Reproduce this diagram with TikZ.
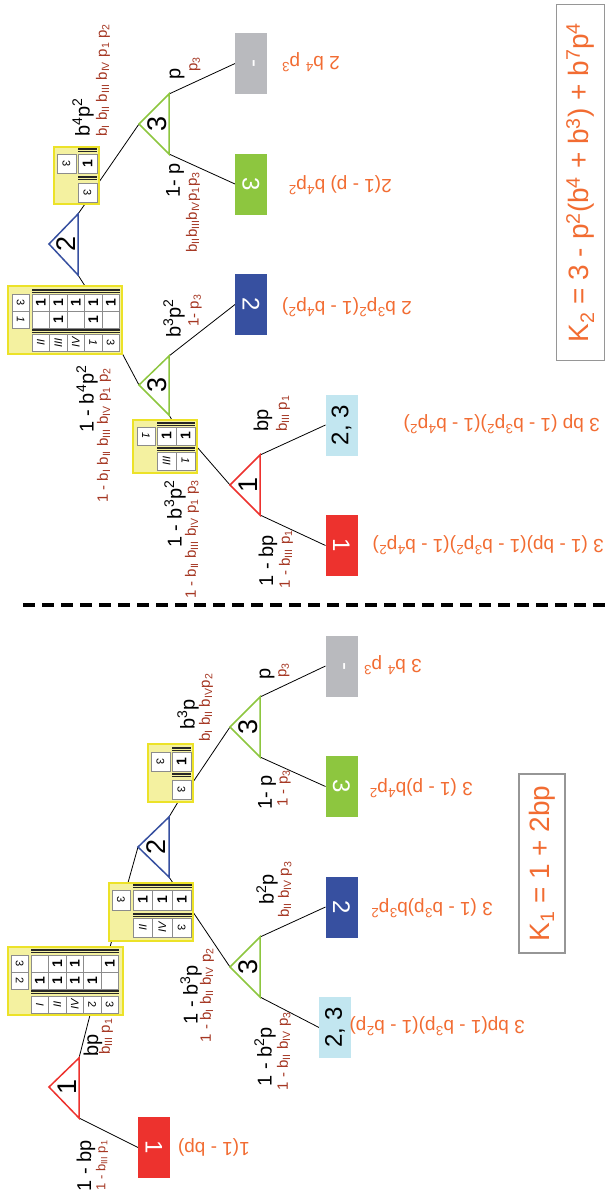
\documentclass[tikz,border=0pt]{standalone}
\usepackage{fontspec}
\setmainfont{Liberation Sans}
\usepackage{graphicx}
\definecolor{tred}{RGB}{237,50,46}
\definecolor{tblue}{RGB}{55,80,160}
\definecolor{tgreen}{RGB}{141,198,63}
\definecolor{tgrey}{RGB}{185,186,190}
\definecolor{tlblue}{RGB}{194,230,240}
\definecolor{orng}{RGB}{242,108,50}
\definecolor{lblred}{RGB}{165,55,35}
\definecolor{yfill}{RGB}{244,241,160}
\definecolor{yline}{RGB}{236,226,40}
\definecolor{kframe}{RGB}{150,150,150}
\definecolor{cellline}{RGB}{140,140,140}
\pgfdeclarelayer{edges}
\pgfsetlayers{edges,main}
\newcommand\fz[1]{\fontsize{#1}{#1}\selectfont}
\newcount\cno
% one table cell: x, y (top left), width, height, content
\newcommand\cell[5]{\global\advance\cno by 1
  \node[cellsty, minimum width=#3, minimum height=#4] (c\the\cno) at ({#1+#3/2},{#2+#4/2}) {#5};}
% triple rule over a row of cells: x1, x2, y
\newcommand\tlines[3]{\foreach \k in {0,1.5,3} {\draw[tl] (#1,{#3+\k}) -- (#2,{#3+\k});}}
\newcommand\one{\rotatebox{90}{\fz{14}\bfseries 1}}
\newcommand\hd[1]{\rotatebox{-90}{\fz{11}#1}}
\newcommand\hdi[1]{\rotatebox{-90}{\fz{11}\itshape #1}}
\newcommand\rn[1]{\rotatebox{90}{\fz{11}\itshape #1}}
\newcommand\up[1]{\textsuperscript{#1}}
\newcommand\dn[1]{\textsubscript{#1}}
\begin{document}
\begin{tikzpicture}[x=1pt,y=-1pt,
  edge/.style={line width=0.8pt,black},
  tri/.style={line width=1.5pt,line join=miter},
  tdig/.style={rotate=90,inner sep=0,font=\fz{27}},
  obox/.style={minimum width=32,minimum height=61,inner sep=0,outer sep=0,text=white,font=\fz{24}},
  ybox/.style={draw=yline,fill=yfill,line width=1.4pt,inner sep=0,outer sep=0},
  cellsty/.style={draw=cellline,fill=white,line width=0.6pt,inner sep=0,outer sep=0},
  tl/.style={line width=0.8pt,black!85},
  lb/.style={rotate=90,inner sep=0,font=\fz{20}},
  lr/.style={rotate=90,inner sep=0,text=lblred,font=\fz{15}},
  form/.style={rotate=180,inner sep=0,text=orng,font=\fz{19},anchor=west},
  kbox/.style={rotate=90,draw=kframe,line width=1.2pt,text=orng,font=\fz{28},inner sep=0},
  ]
\useasboundingbox (0,0) rectangle (607,1194);
\begin{pgfonlayer}{edges}
\fill[white] (0,0) rectangle (607,1194);
\end{pgfonlayer}

% ---------------- K2 tree ----------------
\coordinate (t2a) at (49,244); \coordinate (t2u) at (78,214); \coordinate (t2d) at (78,275);
\draw[tri,draw=tblue] (t2a) -- (t2u) -- (t2d) -- cycle;
\node[tdig] (t2n) at (66,244) {2};

\coordinate (g1a) at (139,124); \coordinate (g1u) at (169,94); \coordinate (g1d) at (169,154);
\draw[tri,draw=tgreen] (g1a) -- (g1u) -- (g1d) -- cycle;
\node[tdig] (g1n) at (157,124) {3};

\coordinate (g2a) at (139,385); \coordinate (g2u) at (169,356); \coordinate (g2d) at (169,415);
\draw[tri,draw=tgreen] (g2a) -- (g2u) -- (g2d) -- cycle;
\node[tdig] (g2n) at (157,385) {3};

\coordinate (r1a) at (230,485); \coordinate (r1u) at (260,455); \coordinate (r1d) at (260,515);
\draw[tri,draw=tred] (r1a) -- (r1u) -- (r1d) -- cycle;
\node[tdig] (r1n) at (248,485) {1};

% table A
\node[ybox,minimum width=114,minimum height=68] (tA) at (65,320) {};
\cell{12}{294}{17.5}{17}{\hd{3}}
\cell{12}{311}{17.5}{17}{\hdi{1}}
\tlines{32}{120}{289}
\tlines{32}{120}{329}
\cell{32}{294}{17.5}{17}{\one}\cell{49.5}{294}{17.5}{17}{\one}\cell{67}{294}{17.5}{17}{\one}\cell{84.5}{294}{17.5}{17}{\one}\cell{102}{294}{17.5}{17}{\one}
\cell{32}{311}{17.5}{17}{}\cell{49.5}{311}{17.5}{17}{\one}\cell{67}{311}{17.5}{17}{}\cell{84.5}{311}{17.5}{17}{\one}\cell{102}{311}{17.5}{17}{}
\cell{32}{334}{17.5}{17.5}{\rn{II}}\cell{49.5}{334}{17.5}{17.5}{\rn{III}}\cell{67}{334}{17.5}{17.5}{\rn{IV}}\cell{84.5}{334}{17.5}{17.5}{\hdi{1}}\cell{102}{334}{17.5}{17.5}{\hd{3}}
\coordinate (tAin) at (85,286); \coordinate (tAout) at (122,353);

% table B
\node[ybox,minimum width=45,minimum height=57] (tB) at (76.5,175.5) {};
\cell{57}{154}{19}{19}{\hd{3}}
\tlines{78}{97}{148}
\tlines{78}{97}{176}
\cell{78}{154}{19}{19}{\one}
\cell{78}{183}{19}{19}{\hd{3}}
\coordinate (tBin) at (85,204); \coordinate (tBout) at (99,182);

% table C
\node[ybox,minimum width=64,minimum height=53] (tC) at (165,446.5) {};
\cell{137}{427}{18}{18}{\hdi{1}}
\tlines{157}{195}{422}
\tlines{157}{195}{447}
\cell{157}{427}{19}{18}{\one}\cell{176}{427}{19}{18}{\one}
\cell{157}{452}{19}{18}{\rn{III}}\cell{176}{452}{19}{18}{\hdi{1}}
\coordinate (tCin) at (172,420); \coordinate (tCout) at (197,447);

% outcome boxes
\node[obox,fill=tgrey] (k2grey) at (251,63.5) {\rotatebox{-90}{-}};
\node[obox,fill=tgreen] (k2green) at (251,184) {\rotatebox{-90}{3}};
\node[obox,fill=tblue] (k2blue) at (251,304.5) {\rotatebox{-90}{2}};
\node[obox,fill=tlblue,text=black] (k2lblue) at (341.5,425) {\rotatebox{90}{2, 3}};
\node[obox,fill=tred] (k2red) at (341.5,545.5) {\rotatebox{-90}{1}};

% branch labels
\node[lb,anchor=west] (k2l1) at (83,137) {b\up{4}p\up{2}};
\node[lr,anchor=west] (k2l2) at (103,137) {b\dn{I} b\dn{II} b\dn{III} b\dn{IV} p\dn{1} p\dn{2}};
\node[lb,anchor=east] (k2l3) at (87,365) {1 - b\up{4}p\up{2}};
\node[lr,anchor=east] (k2l4) at (104,368) {1 - b\dn{I} b\dn{II} b\dn{III} b\dn{IV} p\dn{1} p\dn{2}};
\node[lb,anchor=west] (k2l5) at (177,80) {p};
\node[lr,anchor=west] (k2l6) at (195,72) {p\dn{3}};
\node[lb,anchor=east] (k2l7) at (175,163) {1- p};
\node[lr,anchor=east] (k2l8) at (193,172) {b\dn{II}b\dn{III}b\dn{IV}p\dn{1}p\dn{3}};
\node[lb,anchor=west] (k2l9) at (174,338) {b\up{3}p\up{2}};
\node[lr,anchor=west] (k2l10) at (195,327) {1- p\dn{3}};
\node[lb,anchor=east] (k2l11) at (175,480) {1 - b\up{3}p\up{2}};
\node[lr,anchor=east] (k2l12) at (192,480) {1 - b\dn{II} b\dn{III} b\dn{IV} p\dn{1} p\dn{3}};
\node[lb,anchor=west] (k2l13) at (263,432) {bp};
\node[lr,anchor=west] (k2l14) at (283,432) {b\dn{III} p\dn{1}};
\node[lb,anchor=east] (k2l15) at (268,535) {1 - bp};
\node[lr,anchor=east] (k2l16) at (286,530) {1 - b\dn{III} p\dn{1}};

% payoffs
\node[form] (k2f1) at (340,62) {2 b\up{4} p\up{3}};
\node[form] (k2f2) at (392,185) {2(1 - p) b\up{4}p\up{2}};
\node[form] (k2f3) at (412,307) {2 b\up{3}p\up{2}(1 - b\up{4}p\up{2})};
\node[form] (k2f4) at (600,424) {3 bp (1 - b\up{3}p\up{2})(1 - b\up{4}p\up{2})};
\node[form] (k2f5) at (604,545) {3 (1 - bp)(1 - b\up{3}p\up{2})(1 - b\up{4}p\up{2})};

\node[kbox,minimum width=356,minimum height=48] (k2) at (580.5,182.5)
  {K\dn{2} = 3 - p\up{2}(b\up{4} + b\up{3}) + b\up{7}p\up{4}};

% separator
\draw[line width=4pt,dash pattern=on 12pt off 7pt] (23,605) -- (607,605);

% ---------------- K1 tree ----------------
\coordinate (r2a) at (49,1087); \coordinate (r2u) at (79,1058); \coordinate (r2d) at (79,1118);
\draw[tri,draw=tred] (r2a) -- (r2u) -- (r2d) -- cycle;
\node[tdig] (r2n) at (67,1087) {1};

\coordinate (t3a) at (138,847); \coordinate (t3u) at (169,817); \coordinate (t3d) at (169,877);
\draw[tri,draw=tblue] (t3a) -- (t3u) -- (t3d) -- cycle;
\node[tdig] (t3n) at (156,847) {2};

\coordinate (g3a) at (230,727); \coordinate (g3u) at (260,697); \coordinate (g3d) at (260,757);
\draw[tri,draw=tgreen] (g3a) -- (g3u) -- (g3d) -- cycle;
\node[tdig] (g3n) at (248,727) {3};

\coordinate (g4a) at (230,967); \coordinate (g4u) at (260,937); \coordinate (g4d) at (260,997);
\draw[tri,draw=tgreen] (g4a) -- (g4u) -- (g4d) -- cycle;
\node[tdig] (g4n) at (248,967) {3};

% table D
\node[ybox,minimum width=115,minimum height=68] (tD) at (65.5,981) {};
\cell{11}{955}{17.5}{17}{\hd{3}}
\cell{11}{972}{17.5}{17}{\hd{2}}
\tlines{31}{119}{949}
\tlines{31}{119}{990}
\cell{31}{955}{17.5}{17}{}\cell{48.5}{955}{17.5}{17}{\one}\cell{66}{955}{17.5}{17}{\one}\cell{83.5}{955}{17.5}{17}{}\cell{101}{955}{17.5}{17}{\one}
\cell{31}{972}{17.5}{17}{\one}\cell{48.5}{972}{17.5}{17}{\one}\cell{66}{972}{17.5}{17}{\one}\cell{83.5}{972}{17.5}{17}{\one}\cell{101}{972}{17.5}{17}{}
\cell{31}{996}{17.5}{17}{\rn{I}}\cell{48.5}{996}{17.5}{17}{\rn{II}}\cell{66}{996}{17.5}{17}{\rn{IV}}\cell{83.5}{996}{17.5}{17}{\hd{2}}\cell{101}{996}{17.5}{17}{\hd{3}}
\coordinate (tDin) at (90,1015); \coordinate (tDout) at (110,947);

% table E
\node[ybox,minimum width=84,minimum height=58] (tE) at (151,912) {};
\cell{112}{890}{18}{20}{\hd{3}}
\tlines{133}{192}{884}
\tlines{133}{192}{913}
\cell{133}{890}{19.5}{20}{\one}\cell{152.5}{890}{19.5}{20}{\one}\cell{172}{890}{19.5}{20}{\one}
\cell{133}{918}{19.5}{19}{\rn{II}}\cell{152.5}{918}{19.5}{19}{\rn{IV}}\cell{172}{918}{19.5}{19}{\hd{3}}
\coordinate (tEin) at (173,883); \coordinate (tEout) at (193,912);

% table F
\node[ybox,minimum width=45,minimum height=58] (tF) at (170.5,773) {};
\cell{151}{752}{19}{19}{\hd{3}}
\tlines{172}{191}{747}
\tlines{172}{191}{773}
\cell{172}{752}{19}{19}{\one}
\cell{172}{780}{19}{19}{\hd{3}}
\coordinate (tFin) at (178,802); \coordinate (tFout) at (193,782);

% outcome boxes
\node[obox,fill=tred] (k1red) at (154,1147.5) {\rotatebox{-90}{1}};
\node[obox,fill=tgrey] (k1grey) at (341.5,666) {\rotatebox{-90}{-}};
\node[obox,fill=tgreen] (k1green) at (341.5,786.5) {\rotatebox{-90}{3}};
\node[obox,fill=tblue] (k1blue) at (341.5,907) {\rotatebox{-90}{2}};
\node[obox,fill=tlblue,text=black] (k1lblue) at (335,1027.5) {\rotatebox{90}{2, 3}};

% branch labels
\node[lb,anchor=west] (k1l1) at (93,1057) {bp};
\node[lr,anchor=west] (k1l2) at (106,1055) {b\dn{III} p\dn{1}};
\node[lb,anchor=east] (k1l3) at (86,1140) {1 - bp};
\node[lr,anchor=east,font=\fz{13}] (k1l4) at (102,1140) {1 - b\dn{III} p\dn{1}};
\node[lb,anchor=west] (k1l5) at (188,730) {b\up{3}p};
\node[lr,anchor=west] (k1l6) at (206,742) {b\dn{I} b\dn{II} b\dn{IV}p\dn{2}};
\node[lb,anchor=west] (k1l7) at (267,680) {p};
\node[lr,anchor=west] (k1l8) at (284,678) {p\dn{3}};
\node[lb,anchor=east] (k1l9) at (267,775) {1- p};
\node[lr,anchor=east] (k1l10) at (284,770) {1 - p\dn{3}};
\node[lb,anchor=east] (k1l11) at (191,965) {1 - b\up{3}p};
\node[lr,anchor=east] (k1l12) at (207,948) {1 - b\dn{I} b\dn{II} b\dn{IV} p\dn{2}};
\node[lb,anchor=west] (k1l13) at (267,905) {b\up{2}p};
\node[lr,anchor=west] (k1l14) at (285,918) {b\dn{II} b\dn{IV} p\dn{3}};
\node[lb,anchor=east] (k1l15) at (265,1027) {1 - b\up{2}p};
\node[lr,anchor=east] (k1l16) at (284,1012) {1 - b\dn{II} b\dn{IV} p\dn{3}};

% payoffs
\node[form] (k1f1) at (422,665) {3 b\up{4} p\up{3}};
\node[form] (k1f2) at (473,788) {3 (1 - p)b\up{4}p\up{2}};
\node[form] (k1f3) at (493,908) {3 (1 - b\up{3}p)b\up{3}p\up{2}};
\node[form] (k1f4) at (525,1026) {3 bp(1 - b\up{3}p)(1 - b\up{2}p)};
\node[form] (k1f5) at (250,1147) {1(1 - bp)};

\node[kbox,minimum width=179,minimum height=46] (k1) at (542,863.5)
  {K\dn{1} = 1 + 2bp};

% connectors, kept beneath boxes
\begin{pgfonlayer}{edges}
\draw[edge] (t2d) -- (tAin);
\draw[edge] (t2u) -- (tBin);
\draw[edge] (tBout) -- (g1a);
\draw[edge] (g1u) -- (k2grey.west);
\draw[edge] (g1d) -- (k2green.west);
\draw[edge] (tAout) -- (g2a);
\draw[edge] (g2u) -- (k2blue.west);
\draw[edge] (g2d) -- (tCin);
\draw[edge] (tCout) -- (r1a);
\draw[edge] (r1u) -- (k2lblue.west);
\draw[edge] (r1d) -- (k2red.west);
\draw[edge] (r2u) -- (tDin);
\draw[edge] (r2d) -- (k1red.west);
\draw[edge] (tDout) -- (t3a);
\draw[edge] (t3d) -- (tEin);
\draw[edge] (t3u) -- (tFin);
\draw[edge] (tFout) -- (g3a);
\draw[edge] (g3u) -- (k1grey.west);
\draw[edge] (g3d) -- (k1green.west);
\draw[edge] (tEout) -- (g4a);
\draw[edge] (g4u) -- (k1blue.west);
\draw[edge] (g4d) -- (k1lblue.west);
\end{pgfonlayer}
\end{tikzpicture}
\end{document}
